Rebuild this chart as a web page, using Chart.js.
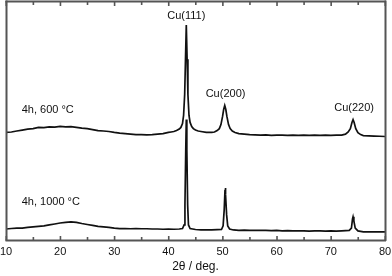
<!DOCTYPE html>
<html>
<head>
<meta charset="utf-8">
<script src="https://cdn.jsdelivr.net/npm/chart.js@4/dist/chart.umd.min.js"></script>
<style>
html,body{margin:0;padding:0;background:#fff;}
canvas{display:block;}
</style>
</head>
<body>
<canvas id="c" width="392" height="276"></canvas>
<script>
// 2θ positions and intensities (a.u.)
const x600 = [10,11,12,13,14,15,16,17,18,19,20,21,22,23,24,25,26,27,28,29,30,31,32,33,34,35,36,37,38,39,40,40.5,41,41.5,42,42.3,42.6,42.8,43.0,43.15,43.3,43.45,43.6,43.8,44.0,44.3,44.6,45,45.5,46,47,48,48.5,49,49.4,49.7,50.0,50.2,50.4,50.6,50.8,51.1,51.4,51.8,52.3,53,54,55,56,57,58,59,60,61,62,63,64,65,66,67,68,69,70,71,72,72.7,73.2,73.6,73.9,74.1,74.3,74.6,75.0,75.5,76,77,78,79,80];
const y600 = [45.0,45.2,45.6,46.0,46.4,46.6,47.1,47.0,47.3,47.2,47.5,47.3,47.4,47.1,46.8,46.6,46.2,45.8,45.6,45.4,45.0,44.7,44.5,44.3,44.1,44.1,44.0,44.1,44.3,44.5,45.0,45.2,45.4,45.8,46.4,47.1,48.7,52.1,60.9,75.6,89.9,75.6,60.9,52.1,49.2,47.5,46.6,46.0,45.6,45.4,45.0,45.0,45.2,45.8,46.6,48.3,51.7,54.6,56.3,54.6,51.7,48.3,46.6,45.6,45.0,44.5,44.3,44.1,44.0,43.9,44.0,43.8,43.9,43.9,43.8,43.9,43.8,43.9,43.8,43.9,43.8,43.9,43.8,43.9,43.9,44.3,45.2,46.6,49.2,50.4,49.2,46.6,44.9,44.1,43.7,43.6,43.5,43.4,43.3];

const x1000 = [10,11,12,13,14,15,16,17,18,19,20,21,22,23,24,25,26,27,28,29,30,31,32,33,34,35,36,37,38,39,40,41,42,42.6,42.9,43.05,43.2,43.3,43.4,43.55,43.7,44.0,45,46,47,48,49,49.8,50.1,50.3,50.45,50.5,50.6,50.75,50.95,51.3,52,53,54,55,56,57,58,59,60,61,62,63,64,65,66,67,68,69,70,71,72,73.4,73.8,74.0,74.1,74.25,74.5,75,76,77,78,79,80];
const y1000 = [4.6,4.8,5.0,5.0,5.3,5.5,5.7,5.9,6.3,6.7,7.1,7.4,7.6,7.4,6.9,6.5,6.1,5.7,5.5,5.3,5.0,4.8,4.8,4.7,4.8,4.7,4.7,4.6,4.6,4.5,4.6,4.5,4.6,4.8,6.3,14.7,37.8,50.4,37.8,14.7,6.3,4.8,4.4,4.2,4.2,4.2,4.3,4.4,5.9,12.6,21.0,21.8,18.9,10.5,5.9,4.6,4.2,4.0,4.1,4.0,4.0,4.0,4.0,3.9,4.0,3.8,3.9,3.8,3.8,3.8,3.7,3.8,3.8,3.7,3.8,3.7,3.8,4.0,5.0,8.8,9.7,8.0,5.0,3.8,3.4,3.4,3.4,3.4,3.4];

const xTicks = [10,20,30,40,50,60,70,80];
const annotations = [
  {text:'Cu(111)', x:43.3, y:93.7, align:'center'},
  {text:'Cu(200)', x:50.55, y:61.0, align:'center'},
  {text:'Cu(220)', x:74.3, y:55.3, align:'center'},
  {text:'4h, 600 \u00B0C', x:12.9, y:54.2, align:'left'},
  {text:'4h, 1000 \u00B0C', x:12.9, y:15.8, align:'left'}
];

const framePlugin = {
  id:'frame',
  afterDraw(chart){
    const ctx = chart.ctx, a = chart.chartArea, xs = chart.scales.x, ys = chart.scales.y;
    const L = a.left, R = a.right, T = a.top, B = a.bottom;
    ctx.save();
    ctx.fillStyle = '#555';
    ctx.fillRect(L - 0.5, T - 0.5, R - L + 1.5, 2);
    ctx.fillRect(L - 0.5, B - 0.5, R - L + 1.5, 2);
    ctx.fillRect(L - 0.5, T - 0.5, 2, B - T + 1.5);
    ctx.fillRect(R - 0.5, T - 0.5, 2, B - T + 1.5);
    for (let v = 10; v <= 80; v += 5) {
      const px = xs.getPixelForValue(v);
      const len = (v % 10 === 0) ? 4 : 3;
      ctx.fillRect(px - 0.5, B - len, 1.6, len);
      ctx.fillRect(px - 0.5, T, 1.6, len + 1);
    }
    ctx.fillStyle = '#111';
    ctx.font = '11px "Liberation Sans", Arial, sans-serif';
    ctx.textBaseline = 'middle';
    annotations.forEach(t => {
      ctx.textAlign = t.align;
      ctx.fillText(t.text, xs.getPixelForValue(t.x), ys.getPixelForValue(t.y));
    });
    ctx.restore();
  }
};

new Chart(document.getElementById('c'), {
  type:'line',
  data:{
    datasets:[
      {data:x600.map((x,i)=>({x:x,y:y600[i]})), borderColor:'#111', borderWidth:1.7, pointRadius:0, tension:0, fill:false},
      {data:x1000.map((x,i)=>({x:x,y:y1000[i]})), borderColor:'#111', borderWidth:1.7, pointRadius:0, tension:0, fill:false}
    ]
  },
  options:{
    responsive:false,
    animation:false,
    devicePixelRatio:1,
    layout:{padding:{left:6, right:7, top:1, bottom:0}},
    plugins:{legend:{display:false}, tooltip:{enabled:false}},
    scales:{
      x:{
        type:'linear', min:10, max:80,
        afterBuildTicks(scale){ scale.ticks = xTicks.map(v=>({value:v})); },
        afterFit(scale){ scale.paddingLeft = 0; scale.paddingRight = 0; scale.height = 36; },
        grid:{display:false, drawTicks:false},
        border:{display:false},
        ticks:{padding:5, color:'#111', font:{family:'"Liberation Sans", Arial, sans-serif', size:11}, maxRotation:0, autoSkip:false},
        title:{display:true, text:'2\u03B8 / deg.', color:'#111', font:{family:'"Liberation Sans", Arial, sans-serif', size:12}, padding:{top:2, bottom:2}}
      },
      y:{display:false, min:0, max:100}
    }
  },
  plugins:[framePlugin]
});
</script>
</body>
</html>
